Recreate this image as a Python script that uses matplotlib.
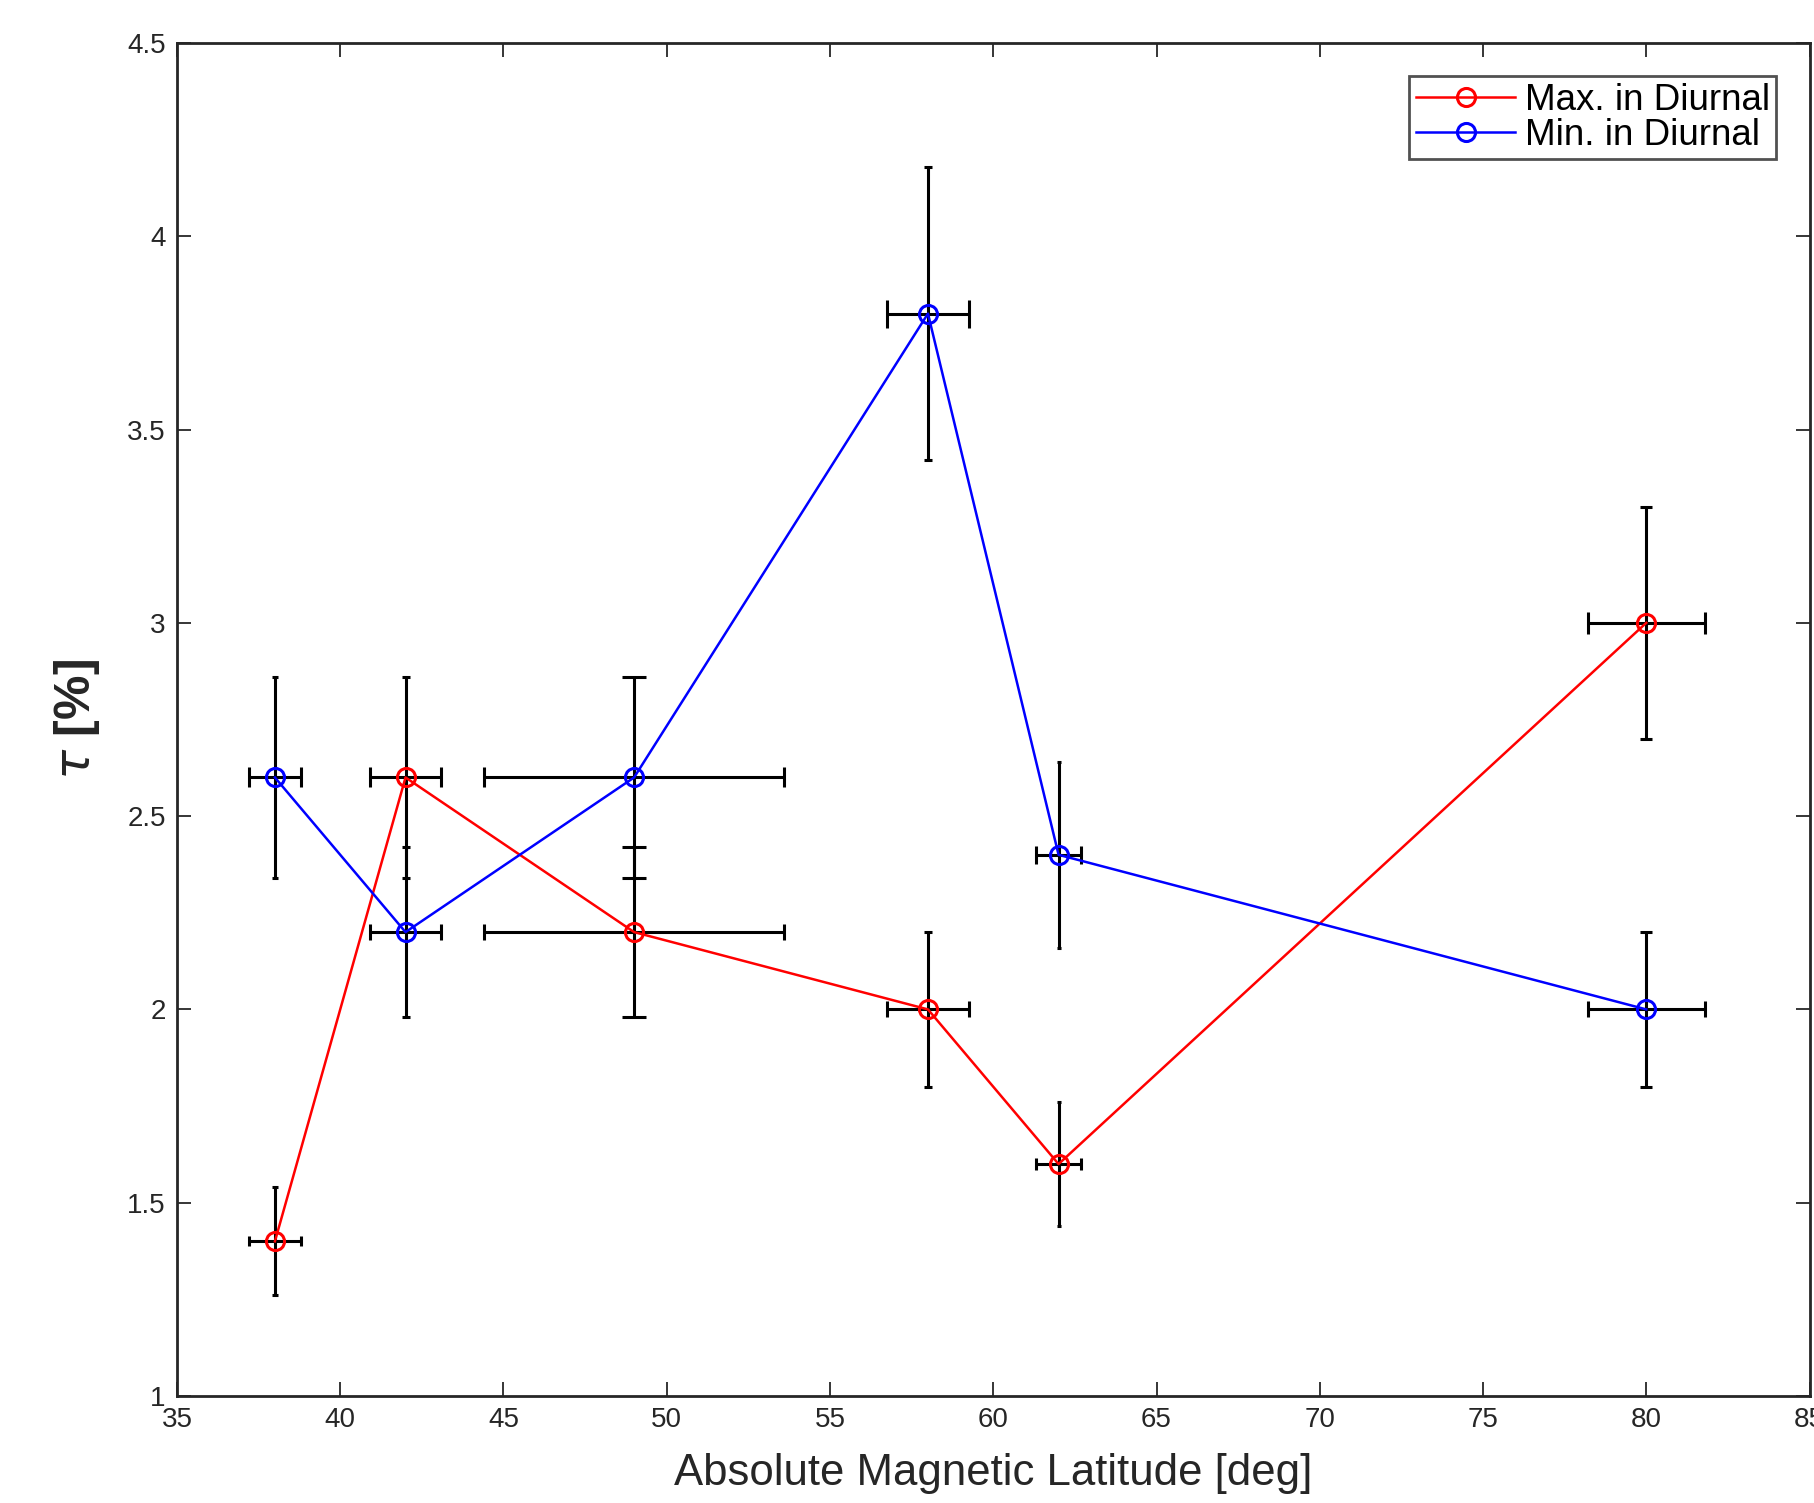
import matplotlib.pyplot as plt
import numpy as np

plt.rcParams['font.family'] = ['Liberation Sans', 'DejaVu Sans']

# latitude of each station and its spread
lat = [38, 42, 49, 58, 62, 80]
lat_err = [0.8, 1.1, 4.6, 1.25, 0.7, 1.8]

# tau at diurnal maximum / minimum
tau_max = [1.4, 2.6, 2.2, 2.0, 1.6, 3.0]
tau_max_err = [0.14, 0.26, 0.22, 0.20, 0.16, 0.30]
tau_min = [2.6, 2.2, 2.6, 3.8, 2.4, 2.0]
tau_min_err = [0.26, 0.22, 0.26, 0.38, 0.24, 0.20]

xticks = np.arange(35, 86, 5)
yticks = [1, 1.5, 2, 2.5, 3, 3.5, 4, 4.5]
ytick_labels = ['1', '1.5', '2', '2.5', '3', '3.5', '4', '4.5']

fig = plt.figure(figsize=(18.15, 15.03), dpi=100)
ax = fig.add_axes([0.0975, 0.0712, 0.8995, 0.9002])

PX = 72 / 100  # pixels -> points


def draw_errs(x, y, xe, ye):
    # cap size of each bar follows the other direction's error (as in the original)
    for xi, yi, xei, yei in zip(x, y, xe, ye):
        ax.errorbar(xi, yi, yerr=yei, fmt='none', ecolor='k', elinewidth=2.2,
                    capsize=min(12, 3.2 * xei) * PX, capthick=2.2, zorder=2)
        ax.errorbar(xi, yi, xerr=xei, fmt='none', ecolor='k', elinewidth=2.2,
                    capsize=(38 * yei) * PX, capthick=2.2, zorder=2)


draw_errs(lat, tau_max, lat_err, tau_max_err)
draw_errs(lat, tau_min, lat_err, tau_min_err)

ax.plot(lat, tau_max, '-o', color='red', lw=1.8, ms=13, mew=2.2,
        mfc='none', label='Max. in Diurnal', zorder=3)
ax.plot(lat, tau_min, '-o', color='blue', lw=1.8, ms=13, mew=2.2,
        mfc='none', label='Min. in Diurnal', zorder=3)

ax.set_xlim(35, 85)
ax.set_ylim(1, 4.5)
ax.set_xticks(xticks)
ax.set_xticklabels([str(t) for t in xticks])
ax.set_yticks(yticks)
ax.set_yticklabels(ytick_labels)
ax.tick_params(direction='in', length=10, width=1.3, top=True, right=True,
               labelsize=20, colors='#262626', pad=8)
for s in ax.spines.values():
    s.set_linewidth(2)
    s.set_color('#262626')

ax.set_xlabel('Absolute Magnetic Latitude [deg]', fontsize=31.5, color='#262626',
              labelpad=14)
ax.set_ylabel(r'$\tau$ [%]', fontsize=36, color='#262626', labelpad=18,
              fontweight='bold')

leg = ax.legend(loc='upper right', fontsize=26.5, frameon=True, fancybox=False,
                edgecolor='#262626', handlelength=2.7, handletextpad=0.25,
                borderpad=0.18, labelspacing=0.0, borderaxespad=0.9)
leg.get_frame().set_linewidth(2)

fig.savefig('out.png', dpi=100)
